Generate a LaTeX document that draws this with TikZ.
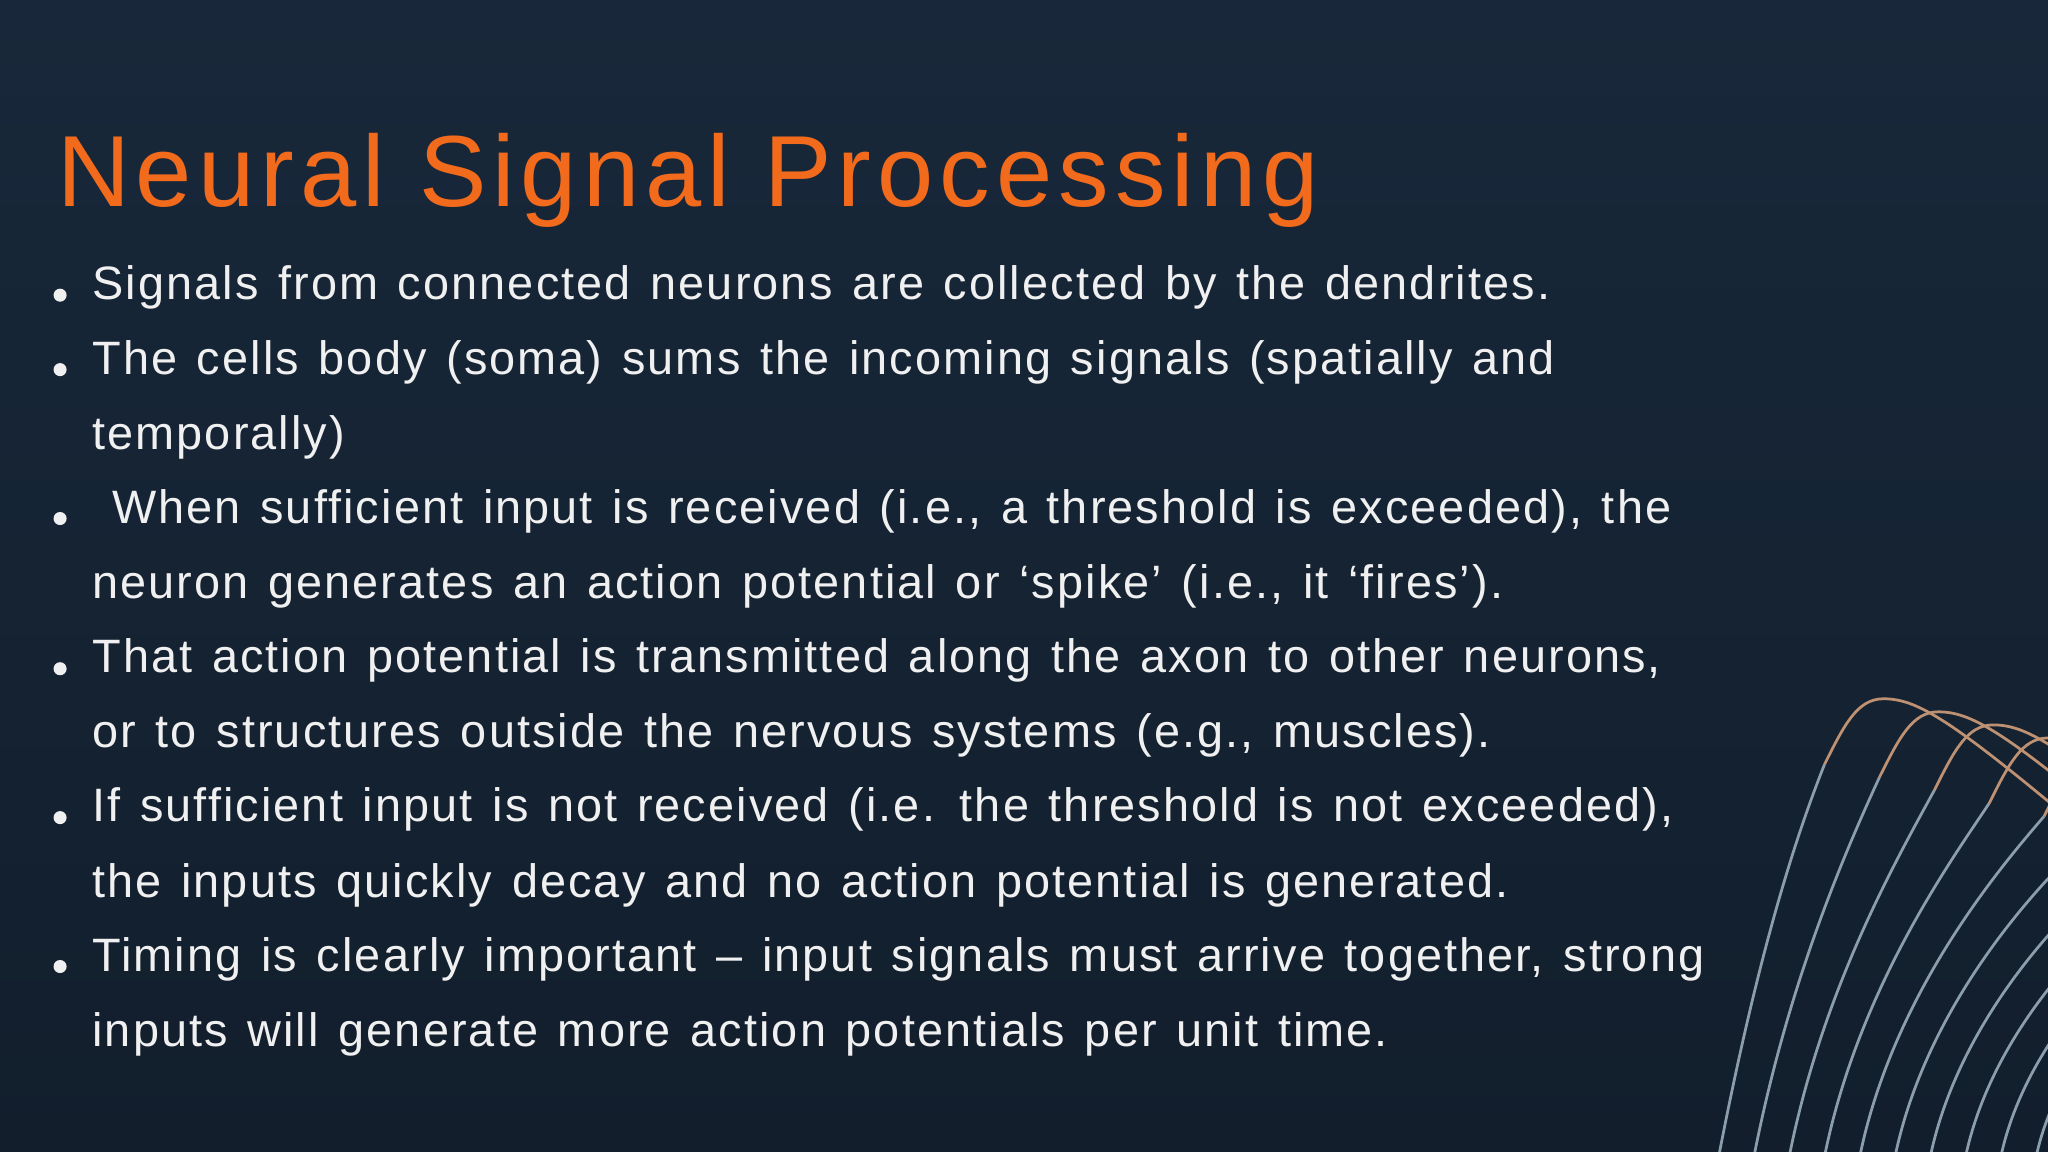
\documentclass[tikz,border=0pt]{standalone}
\usepackage{fontspec}
\setmainfont{Liberation Sans}
\newfontfamily\bodyfont[LetterSpace=4.5,WordSpace=1.3]{Liberation Sans}
\newfontfamily\titlefont[LetterSpace=6]{Liberation Sans}
\begin{document}
\begin{tikzpicture}[x=0.01cm,y=-0.01cm,
  txt/.style={anchor=base west,inner sep=0pt,text=white!94!black,font=\bodyfont\fontsize{10.2pt}{12pt}\selectfont},
  bul/.style={fill=white!94!black,draw=none},
  wave/.style={line width=0.6pt}]
\useasboundingbox (0,0) rectangle (1568,882);
\shade[top color={rgb,255:red,24;green,40;blue,58},bottom color={rgb,255:red,18;green,30;blue,44}] (0,0) rectangle (1568,882);
\begin{scope}
\clip (0,0) rectangle (1568,882);
\foreach \i in {0,...,11}{
  \pgfmathsetmacro{\bx}{1315+\i*27}
  \pgfmathsetmacro{\px}{1442+\i*42}
  \pgfmathsetmacro{\py}{535+\i*10}
  \draw[wave,color={rgb,255:red,140;green,158;blue,172}] (\bx,890) .. controls (\bx+25,760) and (\px-75,660) .. (\px-45,\py+50);
  \draw[wave,color={rgb,255:red,190;green,145;blue,115}] (\px-45,\py+50) .. controls (\px-30,\py+20) and (\px-20,\py) .. (\px,\py) .. controls (\px+25,\py) and (\px+50,\py+15) .. (\px+140,\py+90);
}
\end{scope}
\node[anchor=base west,inner sep=0pt,text={rgb,255:red,242;green,106;blue,27},font=\titlefont\fontsize{22pt}{26pt}\selectfont] (title) at (43,158) {Neural Signal Processing};
\foreach \y [count=\k] in {226,283,397,512,626,740}{
  \fill[bul] (46,\y) circle (5) coordinate (b\k);
}
\node[txt] (l1) at (70,229) {Signals from connected neurons are collected by the dendrites.};
\node[txt] (l2) at (70,287) {The cells body (soma) sums the incoming signals (spatially and};
\node[txt] (l3) at (70,344) {temporally)};
\node[txt] (l4) at (70,401) {\ When sufficient input is received (i.e., a threshold is exceeded), the};
\node[txt] (l5) at (70,458) {neuron generates an action potential or ‘spike’ (i.e., it ‘fires’).};
\node[txt] (l6) at (70,515) {That action potential is transmitted along the axon to other neurons,};
\node[txt] (l7) at (70,572) {or to structures outside the nervous systems (e.g., muscles).};
\node[txt] (l8) at (70,629) {If sufficient input is not received (i.e. the threshold is not exceeded),};
\node[txt] (l9) at (70,687) {the inputs quickly decay and no action potential is generated.};
\node[txt] (l10) at (70,744) {Timing is clearly important – input signals must arrive together, strong};
\node[txt] (l11) at (70,801) {inputs will generate more action potentials per unit time.};
\end{tikzpicture}
\end{document}
